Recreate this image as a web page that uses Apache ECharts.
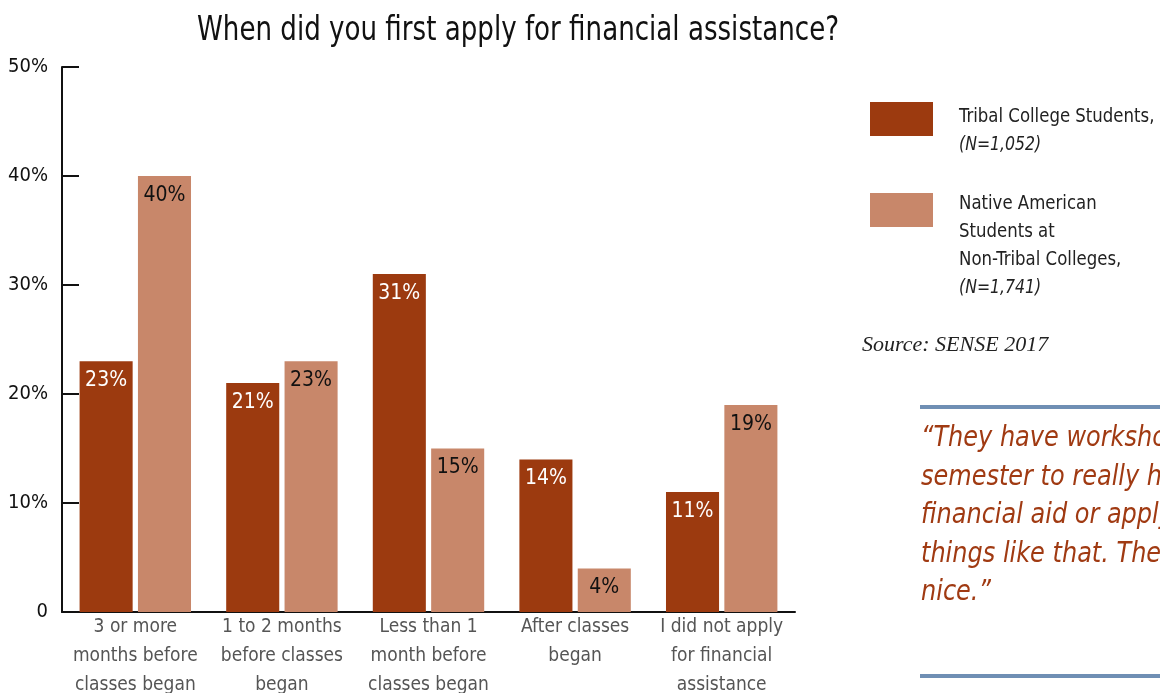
<!DOCTYPE html>
<html><head><meta charset="utf-8">
<script src="https://cdn.jsdelivr.net/npm/echarts@6/dist/echarts.min.js"></script>
<style>html,body{margin:0;padding:0;background:#fff}#c{width:1160px;height:693px}</style>
</head><body><div id="c"></div>
<script>
const categories = ["3 or more\nmonths before\nclasses began", "1 to 2 months\nbefore classes\nbegan", "Less than 1\nmonth before\nclasses began", "After classes\nbegan", "I did not apply\nfor financial\nassistance"];
const tribalValues = [23, 21, 31, 14, 11];
const nativeValues = [40, 23, 15, 4, 19];
const yTicks = [0, 10, 20, 30, 40, 50];
const seriesNames = ["Tribal College Students,", "Native American\nStudents at\nNon-Tribal Colleges,"];
const seriesN = ["(N=1,052)", "(N=1,741)"];
const titleText = "When did you first apply for financial assistance?";
const sourceText = "Source: SENSE 2017";
const quoteLines = ["\u201CThey have workshops every", "semester to really help with", "financial aid or apply for", "things like that. They're", "nice.\u201D"];

const FONT = "'Liberation Sans Narrow','DejaVu Sans Condensed','Roboto',sans-serif";
const DARK = '#9C3A0F', LIGHT = '#C8876A';

const chart = echarts.init(document.getElementById('c'));
const legendGraphics = [];
const legendTops = [102, 189];
[DARK, LIGHT].forEach((col, i) => {
  legendGraphics.push({type:'rect', left:870, top:legendTops[i] + (i ? 4 : 0), shape:{width:63, height:34}, style:{fill:col}});
  legendGraphics.push({type:'text', x:959, y:legendTops[i]+1, scaleX:0.92, style:{
    text: seriesNames[i] + '\n{it|' + seriesN[i] + '}',
    font: '20px ' + FONT, fill:'#222', lineHeight:28,
    rich:{it:{font:'italic 19px ' + FONT, fill:'#222', lineHeight:28}}
  }});
});
const quoteGraphics = quoteLines.map((t, i) => ({type:'text', x:921, y:424 + i*38.5, scaleX:0.92, style:{text:t, font:'italic 29px ' + FONT, fill:'#A03A12'}}));

chart.setOption({
  animation:false,
  grid:{left:62, right:365, top:67, bottom:81, outerBoundsMode:'none'},
  xAxis:{type:'category', data:categories,
    axisLine:{lineStyle:{color:'#111', width:2}},
    axisTick:{inside:true, length:14, lineStyle:{color:'#111', width:2}},
    axisLabel:{fontFamily:FONT, fontSize:19, color:'#555', lineHeight:29, margin:1, interval:0}},
  yAxis:{type:'value', min:0, max:50, interval:10,
    axisLine:{show:true, lineStyle:{color:'#111', width:2}},
    axisTick:{show:true, inside:true, length:17, lineStyle:{color:'#111', width:2}},
    splitLine:{show:false},
    axisLabel:{fontFamily:FONT, fontSize:20, color:'#111', margin:14, padding:[0,0,6,0],
      formatter: v => (yTicks.indexOf(v) >= 0 ? (v === 0 ? '0' : v + '%') : '')}},
  series:[
    {name:'Tribal', type:'bar', data:tribalValues, barGap:'10%', barCategoryGap:'24%',
     itemStyle:{color:DARK},
     label:{show:true, position:'insideTop', distance:9, formatter:'{c}%', fontFamily:FONT, fontSize:21, color:'#fff'}},
    {name:'Native', type:'bar', data:nativeValues,
     itemStyle:{color:LIGHT},
     label:{show:true, position:'insideTop', distance:9, formatter:'{c}%', fontFamily:FONT, fontSize:21, color:'#111'}}
  ],
  graphic: [
    {type:'text', x:197, y:15, scaleX:0.88, style:{text:titleText, font:'33px ' + FONT, fill:'#111'}},
    {type:'text', left:862, top:334, style:{text:sourceText, font:'italic 22px "Liberation Serif","DejaVu Serif",serif', fill:'#222'}},
    {type:'rect', left:920, top:405, shape:{width:240, height:4}, style:{fill:'#6F8FB4'}},
    {type:'rect', left:920, top:674, shape:{width:240, height:4}, style:{fill:'#6F8FB4'}}
  ].concat(legendGraphics).concat(quoteGraphics)
});
</script></body></html>
